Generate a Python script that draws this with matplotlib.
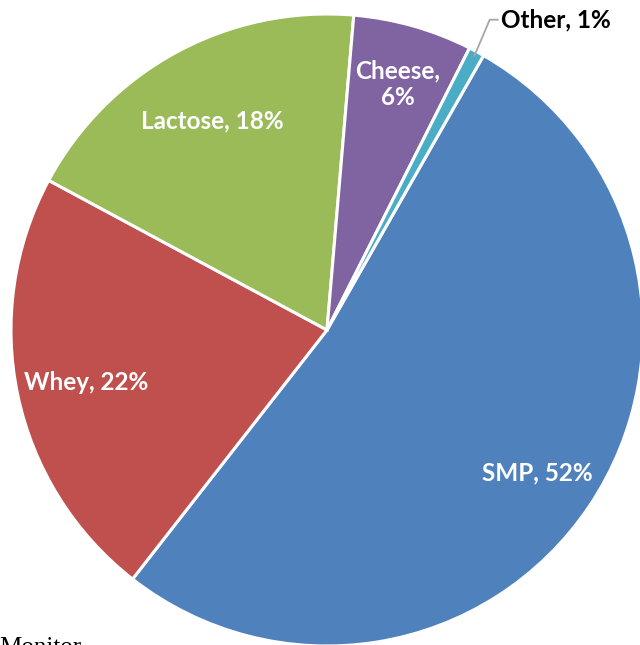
import numpy as np
import matplotlib.pyplot as plt

# slice data, clockwise from the SMP/Other boundary
categories = ['SMP', 'Whey', 'Lactose', 'Cheese', 'Other']
shares = [52.3, 22.3, 18.5, 6.1, 0.8]
pct_labels = ['52%', '22%', '18%', '6%', '1%']
colors = ['#4F81BD', '#C0504D', '#9BBB59', '#8064A2', '#4BACC6']

fig = plt.figure(figsize=(6.4, 6.45), dpi=100)
# pie centre ~ (327, 330) px, radius ~316 px
cx, cy, r = 327, 330, 316
ax = fig.add_axes([(cx - r) / 640, (645 - cy - r) / 645, 2 * r / 640, 2 * r / 645])

wedges, texts = ax.pie(shares, colors=colors, startangle=60.3, counterclock=False,
                       radius=1.0, labels=None,
                       wedgeprops=dict(edgecolor='white', linewidth=2.2))
ax.set_xlim(-1, 1)
ax.set_ylim(-1, 1)
ax.set_aspect('equal')
ax.axis('off')

font = dict(family=['Lato', 'DejaVu Sans'], fontweight='bold', fontsize=17.5)
label_dist = [0.80, 0.78, 0.76, 0.82]
for w, cat, pct, d in zip(wedges[:4], categories[:4], pct_labels[:4], label_dist):
    mid = np.deg2rad((w.theta1 + w.theta2) / 2)
    sep = '\n' if cat == 'Cheese' else ' '
    ax.text(d * np.cos(mid), d * np.sin(mid), f'{cat},{sep}{pct}', color='white',
            ha='center', va='center_baseline', linespacing=1.15, **font)

# leader line for the small slice
w = wedges[4]
mid = np.deg2rad((w.theta1 + w.theta2) / 2)
x0, y0 = 0.985 * np.cos(mid), 0.985 * np.sin(mid)
ax.plot([x0, 0.515, 0.54], [y0, 0.982, 0.982], color='#A6A6A6', lw=1.3,
        clip_on=False)
ax.text(0.55, 0.982, f'{categories[4]}, {pct_labels[4]}', color='black',
        ha='left', va='center', **font)

# source note, cut off by the bottom edge as in the original
fig.text(-0.002, 1 - 637 / 645, 'Monitor', family='Liberation Serif', fontsize=18,
         ha='left', va='top', color='black')

fig.savefig('out.png', dpi=100)
